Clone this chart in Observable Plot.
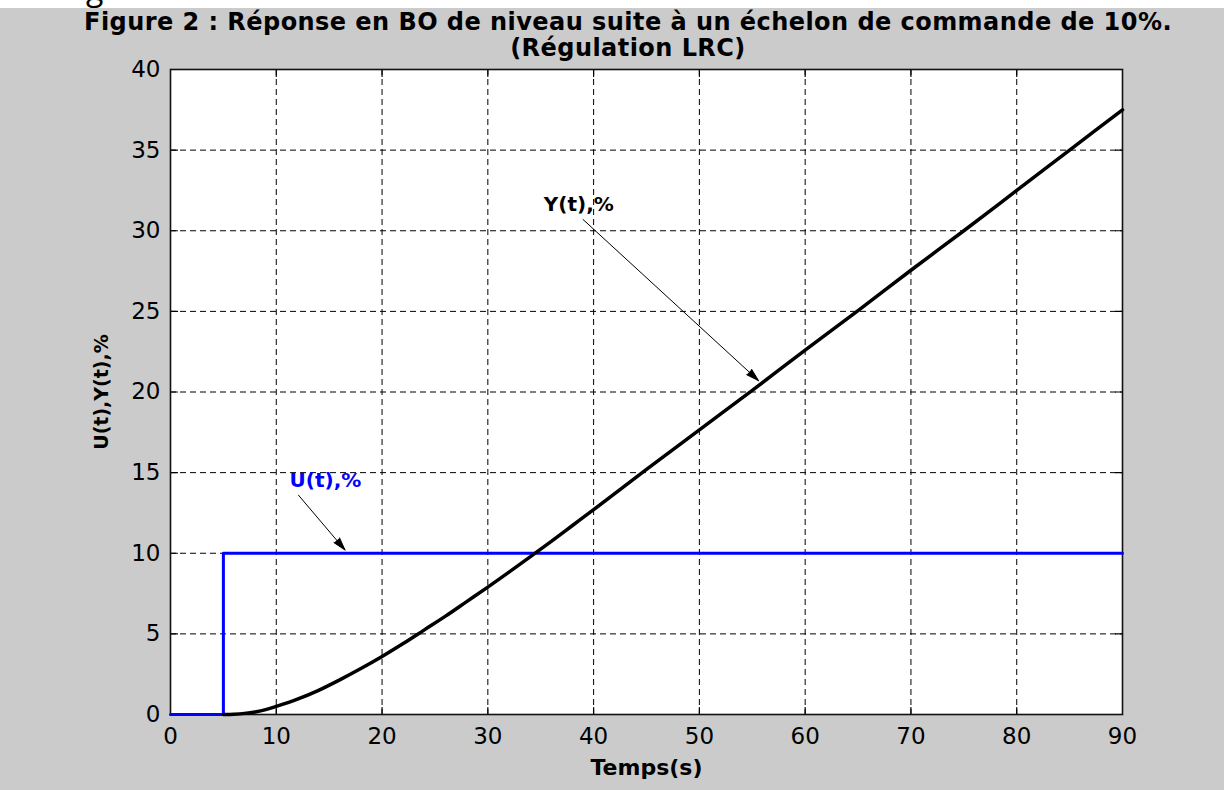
<!DOCTYPE html>
<html>
<head>
<meta charset="utf-8">
<script src="https://cdn.jsdelivr.net/npm/d3@7"></script>
<script src="https://cdn.jsdelivr.net/npm/@observablehq/plot@0.6"></script>
<style>
  html, body { margin: 0; padding: 0; background: #ffffff; width: 1224px; height: 790px; overflow: hidden; }
  #frag { position: absolute; left: 86px; top: -28px; font: 32px/32px "Open Sans", sans-serif; color: #000; }
  #fig { position: absolute; top: 8px; left: 0; width: 1224px; height: 782px; background: #cbcbcb; }
  #title { position: absolute; top: 1px; left: 0; width: 1256px; text-align: center;
           font: bold 24px/26px "DejaVu Sans", sans-serif; letter-spacing: 0.45px; color: #000; }
  #chart { position: absolute; top: 52px; left: 0; }
</style>
</head>
<body>
<div id="frag">g</div>
<div id="fig">
  <div id="title"></div>
  <div id="chart"></div>
</div>
<script>
// ---- data ----
const titleLines = ["Figure 2 : Réponse en BO de niveau suite à un échelon de commande de 10%.", "(Régulation LRC)"];
const xLabel = "Temps(s)";
const yLabel = "U(t),Y(t),%";
const xTicks = [0, 10, 20, 30, 40, 50, 60, 70, 80, 90];
const yTicks = [0, 5, 10, 15, 20, 25, 30, 35, 40];

// U(t): step command
const uTime  = [0, 5, 5, 90];
const uValue = [0, 0, 10, 10];

// Y(t): level response
const yTime  = [5, 6, 7, 8, 9, 10, 12, 14, 16, 18, 20, 22, 24, 26, 28, 30, 32, 34, 36, 38, 40, 45, 50, 55, 60, 65, 70, 75, 80, 85, 90];
const yValue = [0, 0.02, 0.07, 0.16, 0.3, 0.5, 0.95, 1.5, 2.15, 2.85, 3.6, 4.4, 5.25, 6.1, 7.0, 7.9, 8.83, 9.78, 10.74, 11.72, 12.7, 15.2, 17.65, 20.1, 22.6, 25.05, 27.55, 30.0, 32.5, 35.0, 37.5];

// annotations
const annText   = ["Y(t),%", "U(t),%"];
const annColor  = ["black", "blue"];
const annTextX  = [38.6, 14.65];
const annTextY  = [31.6, 14.5];
const annFromX  = [39.0, 12.1];
const annFromY  = [30.7, 13.6];
const annToX    = [55.6, 16.5];
const annToY    = [20.7, 10.2];

// ---- build ----
document.getElementById("title").innerHTML = titleLines.map(t => `<div>${t}</div>`).join("");

const uData = uTime.map((t, i) => ({t, v: uValue[i]}));
const yData = yTime.map((t, i) => ({t, v: yValue[i]}));
const ann = annText.map((s, i) => ({s, c: annColor[i], tx: annTextX[i], ty: annTextY[i], x1: annFromX[i], y1: annFromY[i], x2: annToX[i], y2: annToY[i]}));

const inner = arr => arr.slice(1, -1);
const tickShape = { draw(context, l) { context.moveTo(0, 0); context.lineTo(0, -l); } };
const font = "DejaVu Sans";

const chart = Plot.plot({
  width: 1224,
  height: 725,
  marginLeft: 170,
  marginRight: 102,
  marginTop: 9,
  marginBottom: 71,
  style: { fontFamily: font, color: "black", background: "none", overflow: "visible" },
  x: { domain: [0, 90] },
  y: { domain: [0, 40] },
  marks: [
    Plot.frame({ fill: "white", stroke: null }),
    Plot.gridX(inner(xTicks), { stroke: "black", strokeOpacity: 1, strokeWidth: 1, strokeDasharray: "6,4" }),
    Plot.gridY(inner(yTicks), { stroke: "black", strokeOpacity: 1, strokeWidth: 1, strokeDasharray: "6,4" }),
    // inside ticks on all four sides
    Plot.vector(inner(xTicks), { x: d => d, y: () => 0, length: 7, rotate: 0, anchor: "start", shape: tickShape, stroke: "black", strokeWidth: 1.2 }),
    Plot.vector(inner(xTicks), { x: d => d, y: () => 40, length: 7, rotate: 180, anchor: "start", shape: tickShape, stroke: "black", strokeWidth: 1.2 }),
    Plot.vector(inner(yTicks), { x: () => 0, y: d => d, length: 7, rotate: 90, anchor: "start", shape: tickShape, stroke: "black", strokeWidth: 1.2 }),
    Plot.vector(inner(yTicks), { x: () => 90, y: d => d, length: 7, rotate: 270, anchor: "start", shape: tickShape, stroke: "black", strokeWidth: 1.2 }),
    Plot.frame({ stroke: "#111", strokeWidth: 1.6 }),
    Plot.axisX(xTicks, { tickSize: 0, tickPadding: 13, fontSize: 23, label: null, fill: "black" }),
    Plot.axisY(yTicks, { tickSize: 0, tickPadding: 10, fontSize: 23, label: null, fill: "black" }),
    Plot.text([xLabel], { text: d => d, frameAnchor: "bottom", dy: 53, fontSize: 22, fontWeight: "bold", fill: "black", lineAnchor: "middle", textAnchor: "middle" }),
    Plot.text([yLabel], { text: d => d, frameAnchor: "left", dx: -69, rotate: -90, fontSize: 19, fontWeight: "bold", fill: "black", lineAnchor: "middle", textAnchor: "middle" }),
    Plot.line(uData, { x: "t", y: "v", stroke: "blue", strokeWidth: 3, curve: "linear" }),
    Plot.line(yData, { x: "t", y: "v", stroke: "black", strokeWidth: 3.5, curve: "monotone-x" }),
    Plot.arrow(ann, { x1: "x1", y1: "y1", x2: "x2", y2: "y2", stroke: "black", fill: "black", strokeWidth: 1, headLength: 20, headAngle: 32 }),
    Plot.text(ann, { x: "tx", y: "ty", text: "s", fill: "c", fontSize: 20, fontWeight: "bold", lineAnchor: "middle" })
  ]
});
document.getElementById("chart").appendChild(chart);
</script>
</body>
</html>
